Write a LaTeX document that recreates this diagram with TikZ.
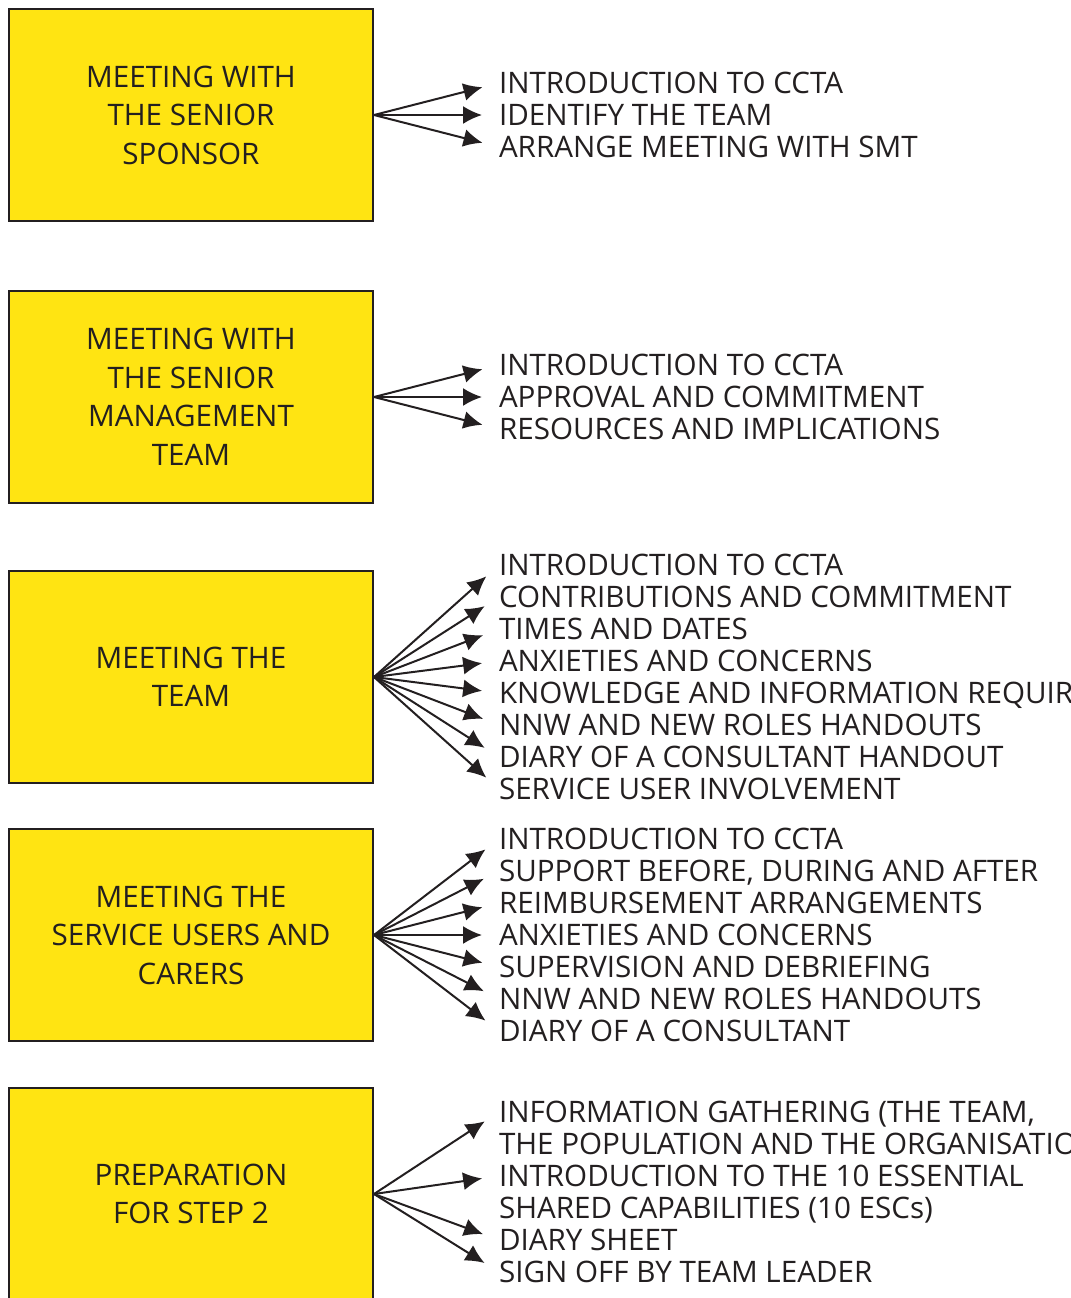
\documentclass[tikz,border=0pt]{standalone}
\usepackage{fontspec}
\setmainfont{Open Sans}
\usetikzlibrary{positioning, arrows.meta}
\definecolor{boxyellow}{RGB}{255,228,18}
\definecolor{ink}{RGB}{35,31,32}
\tikzset{
  stepbox/.style={
    rectangle, draw=ink, fill=boxyellow,
    line width=1pt, text=ink, align=center,
    minimum width=182pt, minimum height=106pt,
    font=\fontsize{14.8}{19.25}\selectfont
  },
  item/.style={
    inner sep=0pt, outer sep=0pt, text=ink,
    text height=10.6pt, text depth=0pt,
    font=\fontsize{14.8}{16}\selectfont
  },
  nextline/.style={below=5.4pt of #1.south west, anchor=north west},
  arrow/.style={draw=ink, line width=1pt, -{Latex[length=9.5pt, width=9pt]}, shorten >=8.5pt}
}

\begin{document}
\begin{tikzpicture}
\useasboundingbox (0,0) rectangle (535.5pt,-649pt);

% ==============================================================================
% Steps
% ==============================================================================
\node[stepbox] (sponsor) at (95.5pt,-57.5pt) {MEETING WITH\\THE SENIOR\\SPONSOR};
\node[stepbox, below=34pt of sponsor] (smt) {MEETING WITH\\THE SENIOR\\MANAGEMENT\\TEAM};
\node[stepbox, below=33pt of smt] (team) {MEETING THE\\TEAM};
\node[stepbox, below=22pt of team] (users) {MEETING THE\\SERVICE USERS AND\\CARERS};
\node[stepbox, below=22.5pt of users] (prep) {PREPARATION\\FOR STEP 2};

% ==============================================================================
% Senior sponsor
% ==============================================================================
\node[item, anchor=west] (a1) at ([xshift=62.5pt, yshift=16pt] sponsor.east) {INTRODUCTION TO CCTA};
\node[item, nextline=a1] (a2) {IDENTIFY THE TEAM};
\node[item, nextline=a2] (a3) {ARRANGE MEETING WITH SMT};

% ==============================================================================
% Senior management team
% ==============================================================================
\node[item, anchor=west] (b1) at ([xshift=62.5pt, yshift=16pt] smt.east) {INTRODUCTION TO CCTA};
\node[item, nextline=b1] (b2) {APPROVAL AND COMMITMENT};
\node[item, nextline=b2] (b3) {RESOURCES AND IMPLICATIONS};

% ==============================================================================
% Team
% ==============================================================================
\node[item, anchor=west] (c1) at ([xshift=62.5pt, yshift=56pt] team.east) {INTRODUCTION TO CCTA};
\node[item, nextline=c1] (c2) {CONTRIBUTIONS AND COMMITMENT};
\node[item, nextline=c2] (c3) {TIMES AND DATES};
\node[item, nextline=c3] (c4) {ANXIETIES AND CONCERNS};
\node[item, nextline=c4] (c5) {KNOWLEDGE AND INFORMATION REQUIRED};
\node[item, nextline=c5] (c6) {NNW AND NEW ROLES HANDOUTS};
\node[item, nextline=c6] (c7) {DIARY OF A CONSULTANT HANDOUT};
\node[item, nextline=c7] (c8) {SERVICE USER INVOLVEMENT};

% ==============================================================================
% Service users and carers
% ==============================================================================
\node[item, anchor=west] (d1) at ([xshift=62.5pt, yshift=48pt] users.east) {INTRODUCTION TO CCTA};
\node[item, nextline=d1] (d2) {SUPPORT BEFORE, DURING AND AFTER};
\node[item, nextline=d2] (d3) {REIMBURSEMENT ARRANGEMENTS};
\node[item, nextline=d3] (d4) {ANXIETIES AND CONCERNS};
\node[item, nextline=d4] (d5) {SUPERVISION AND DEBRIEFING};
\node[item, nextline=d5] (d6) {NNW AND NEW ROLES HANDOUTS};
\node[item, nextline=d6] (d7) {DIARY OF A CONSULTANT};

% ==============================================================================
% Preparation for step 2
% ==============================================================================
\node[item, anchor=west] (e1) at ([xshift=62.5pt, yshift=41pt] prep.east) {INFORMATION GATHERING (THE TEAM,};
\node[item, nextline=e1] (e1b) {THE POPULATION AND THE ORGANISATION)};
\node[item, nextline=e1b] (e2) {INTRODUCTION TO THE 10 ESSENTIAL};
\node[item, nextline=e2] (e2b) {SHARED CAPABILITIES (10 ESCs)};
\node[item, nextline=e2b] (e3) {DIARY SHEET};
\node[item, nextline=e3] (e4) {SIGN OFF BY TEAM LEADER};

% ==============================================================================
% Arrows
% ==============================================================================
\foreach \n in {a1,a2,a3} \draw[arrow] (sponsor.east) -- (\n.west);
\foreach \n in {b1,b2,b3} \draw[arrow] (smt.east) -- (\n.west);
\foreach \n in {c1,c2,c3,c4,c5,c6,c7,c8} \draw[arrow] (team.east) -- (\n.west);
\foreach \n in {d1,d2,d3,d4,d5,d6,d7} \draw[arrow] (users.east) -- (\n.west);
\foreach \n in {e1,e2,e3,e4} \draw[arrow] (prep.east) -- (\n.west);

\end{tikzpicture}
\end{document}
